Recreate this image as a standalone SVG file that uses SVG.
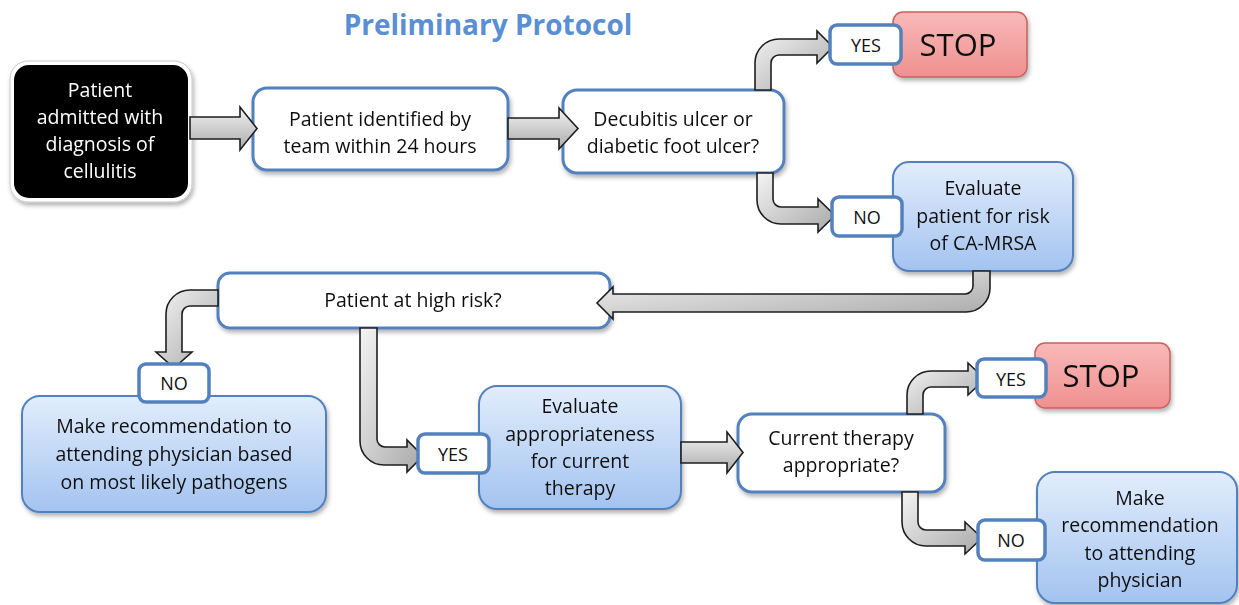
<svg xmlns="http://www.w3.org/2000/svg" width="1239" height="605" viewBox="0 0 1239 605">
<defs>
  <linearGradient id="gBlue" x1="0" y1="0" x2="0" y2="1">
    <stop offset="0" stop-color="#e2edfc"/>
    <stop offset="1" stop-color="#a3c3f0"/>
  </linearGradient>
  <linearGradient id="gRed" x1="0" y1="0" x2="0" y2="1">
    <stop offset="0" stop-color="#f9b9b9"/>
    <stop offset="1" stop-color="#ef9090"/>
  </linearGradient>
  <linearGradient id="gArrH" x1="0" y1="0" x2="0" y2="1">
    <stop offset="0" stop-color="#f2f2f2"/>
    <stop offset="1" stop-color="#ababab"/>
  </linearGradient>
  <linearGradient id="gArrC" x1="0" y1="0" x2="1" y2="1">
    <stop offset="0" stop-color="#f4f4f4"/>
    <stop offset="1" stop-color="#a8a8a8"/>
  </linearGradient>
  <filter id="sh" x="-10%" y="-10%" width="130%" height="140%">
    <feDropShadow dx="1.5" dy="3" stdDeviation="2" flood-color="#000" flood-opacity="0.3"/>
  </filter>
</defs>
<style>
  text { font-family: "Open Sans", "Liberation Sans", sans-serif; font-size: 19.5px; fill: #111; text-anchor: middle; }
  .title { font-size: 28px; font-weight: bold; fill: #5a8fd3; }
  .stop { font-size: 31px; }
  .lt { font-size: 18px; }
  .white { fill: #fff; }
  .box { fill: #fff; stroke: #5381bd; stroke-width: 3; }
  .blue { fill: url(#gBlue); stroke: #5381bd; stroke-width: 2; }
  .red { fill: url(#gRed); stroke: #c6625f; stroke-width: 1.5; }
  .lbl { fill: #fff; stroke: #5381bd; stroke-width: 3.5; }
  .arr { fill: url(#gArrH); stroke: #1e1e1e; stroke-width: 1.6; stroke-linejoin: miter; }
  .arrc { fill: url(#gArrC); stroke: #1e1e1e; stroke-width: 1.6; stroke-linejoin: miter; }
</style>
<rect width="1239" height="605" fill="#fff"/>

<text class="title" x="488" y="35">Preliminary Protocol</text>

<g id="n-admitted" filter="url(#sh)">
  <rect x="10" y="61" width="182" height="141" rx="18" fill="#fff" stroke="#c8c8c8" stroke-width="1"/>
  <rect x="14" y="65" width="174" height="133" rx="15" fill="#000"/>
  <text class="white" x="100" y="97">Patient</text>
  <text class="white" x="100" y="124">admitted with</text>
  <text class="white" x="100" y="151">diagnosis of</text>
  <text class="white" x="100" y="178">cellulitis</text>
</g>

<g id="n-identified" filter="url(#sh)">
  <rect class="box" x="253" y="88" width="255" height="82" rx="14"/>
  <text x="380" y="126">Patient identified by</text>
  <text x="380" y="153">team within 24 hours</text>
</g>

<g id="n-ulcer" filter="url(#sh)">
  <rect class="box" x="563" y="90" width="221" height="83" rx="14"/>
  <text x="673" y="126">Decubitis ulcer or</text>
  <text x="673" y="153">diabetic foot ulcer?</text>
</g>

<g id="n-stop1" filter="url(#sh)">
  <rect class="red" x="893" y="12" width="134" height="65" rx="10"/>
  <text class="stop" x="958" y="56">STOP</text>
</g>

<g id="n-evalpatient" filter="url(#sh)">
  <rect class="blue" x="893" y="162" width="180" height="109" rx="16"/>
  <text x="983" y="195">Evaluate</text>
  <text x="983" y="223">patient for risk</text>
  <text x="983" y="250">of CA-MRSA</text>
</g>

<g id="n-highrisk" filter="url(#sh)">
  <rect class="box" x="218" y="273" width="392" height="55" rx="12"/>
  <text x="413" y="307">Patient at high risk?</text>
</g>

<g id="n-makerec1" filter="url(#sh)">
  <rect class="blue" x="22" y="396" width="304" height="116" rx="18"/>
  <text x="174" y="433">Make recommendation to</text>
  <text x="174" y="461">attending physician based</text>
  <text x="174" y="489">on most likely pathogens</text>
</g>

<g id="n-evalapprop" filter="url(#sh)">
  <rect class="blue" x="479" y="386" width="202" height="123" rx="18"/>
  <text x="580" y="413">Evaluate</text>
  <text x="580" y="441">appropriateness</text>
  <text x="580" y="468">for current</text>
  <text x="580" y="495">therapy</text>
</g>

<g id="n-therapy" filter="url(#sh)">
  <rect class="box" x="738" y="414" width="207" height="78" rx="14"/>
  <text x="841" y="445">Current therapy</text>
  <text x="841" y="472">appropriate?</text>
</g>

<g id="n-stop2" filter="url(#sh)">
  <rect class="red" x="1035" y="343" width="135" height="65" rx="10"/>
  <text class="stop" x="1101" y="387">STOP</text>
</g>

<g id="n-makerec2" filter="url(#sh)">
  <rect class="blue" x="1037" y="472" width="200" height="131" rx="18"/>
  <text x="1140" y="505">Make</text>
  <text x="1140" y="532">recommendation</text>
  <text x="1140" y="560">to attending</text>
  <text x="1140" y="587">physician</text>
</g>

<g id="connectors">
  <path class="arr" d="M190,117 H240 V107 L257,128.5 L240,150 V139 H190 Z"/>
  <path class="arr" d="M508,118 H559 V108 L578,128.5 L559,149 V139 H508 Z"/>
  <path class="arrc" d="M755,90 V63 A24,24 0 0 1 779,39 H817 V31 L833,47 L817,63 V55 H779 A8,8 0 0 0 771,63 V90 Z"/>
  <path class="arrc" d="M757,173 V200 A24,24 0 0 0 781,224 H818 V232 L835,215.5 L818,199 V207 H781 A8,8 0 0 1 773,199 V173 Z"/>
  <path class="arrc" d="M990,271 V288 A24,24 0 0 1 966,312 H613 V319 L597,303 L613,287 V294 H965 A8,8 0 0 0 973,286 V271 Z"/>
  <path class="arrc" d="M218,290 H190 A24,24 0 0 0 166,314 V352 H156 L174,368 L192,352 H182 V314 A8,8 0 0 1 190,306 H218 Z"/>
  <path class="arrc" d="M360,328 V441 A24,24 0 0 0 384,465 H407 V472 L423,456 L407,440 V447 H385 A8,8 0 0 1 377,439 V328 Z"/>
  <path class="arr" d="M681,442 H727 V432 L743,452.5 L727,473 V463 H681 Z"/>
  <path class="arrc" d="M907,414 V395 A24,24 0 0 1 931,371 H968 V363 L985,379 L968,395 V387 H931 A8,8 0 0 0 923,395 V414 Z"/>
  <path class="arrc" d="M902,492 V522 A24,24 0 0 0 926,546 H965 V554 L982,538 L965,522 V530 H926 A8,8 0 0 1 918,522 V492 Z"/>
</g>

<g id="l-yes1">
  <rect class="lbl" x="830" y="25" width="71" height="39" rx="7"/>
  <text class="lt" x="866" y="52">YES</text>
</g>
<g id="l-no1">
  <rect class="lbl" x="832" y="197" width="70" height="39" rx="7"/>
  <text class="lt" x="867" y="224">NO</text>
</g>
<g id="l-no2">
  <rect class="lbl" x="139" y="364" width="70" height="38" rx="7"/>
  <text class="lt" x="174" y="390">NO</text>
</g>
<g id="l-yes2">
  <rect class="lbl" x="418" y="434" width="71" height="39" rx="7"/>
  <text class="lt" x="453" y="461">YES</text>
</g>
<g id="l-yes3">
  <rect class="lbl" x="977" y="359" width="69" height="38" rx="7"/>
  <text class="lt" x="1011" y="386">YES</text>
</g>
<g id="l-no3">
  <rect class="lbl" x="978" y="520" width="67" height="40" rx="7"/>
  <text class="lt" x="1011" y="547">NO</text>
</g>
</svg>
